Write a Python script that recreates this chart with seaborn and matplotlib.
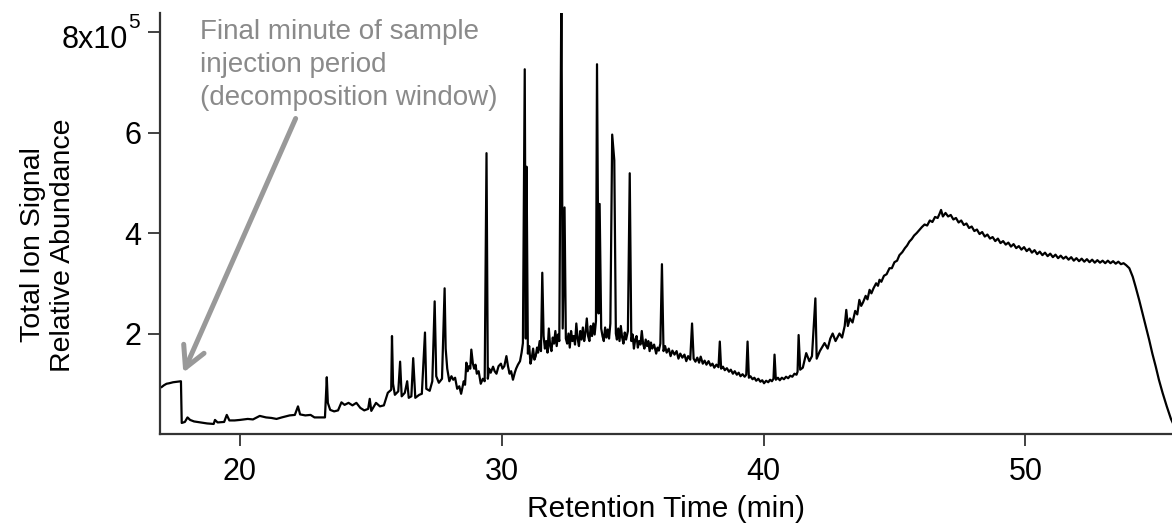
import matplotlib
matplotlib.use("Agg")
import matplotlib.pyplot as plt
import seaborn as sns
import pandas as pd

# ---- data (retention time in min, signal in units of 1e5) ----
rt_early = [17.0, 17.1, 17.2, 17.3, 17.45, 17.6, 17.75, 17.78, 17.9, 18.0, 18.1, 18.25, 18.5,
            18.75, 19.0, 19.05, 19.15, 19.4, 19.5, 19.6, 19.8, 20.0, 20.3, 20.5, 20.76, 21.0,
            21.2, 21.4, 21.6, 21.9, 22.1, 22.22, 22.3, 22.5, 22.7, 22.85, 23.0, 23.25, 23.32,
            23.36, 23.45, 23.6, 23.75, 23.88, 24.0, 24.15, 24.3, 24.45, 24.6, 24.75, 24.9,
            24.96, 25.02, 25.2, 25.35, 25.5, 25.65, 25.78, 25.81, 25.85, 25.92, 26.05, 26.12,
            26.18, 26.3, 26.39, 26.45, 26.55, 26.62, 26.7, 26.85, 26.95, 27.07, 27.12, 27.25,
            27.35, 27.44, 27.5, 27.6, 27.72, 27.82, 27.86, 27.92]
tic_early = [0.93, 0.97, 1.00, 1.01, 1.03, 1.04, 1.05, 0.22, 0.24, 0.33, 0.28, 0.25, 0.23,
             0.21, 0.20, 0.28, 0.23, 0.24, 0.38, 0.27, 0.27, 0.28, 0.30, 0.29, 0.36, 0.33,
             0.32, 0.30, 0.33, 0.37, 0.38, 0.55, 0.39, 0.37, 0.38, 0.33, 0.33, 0.33, 1.13,
             0.62, 0.48, 0.45, 0.47, 0.63, 0.58, 0.62, 0.57, 0.62, 0.52, 0.47, 0.50,
             0.70, 0.46, 0.62, 0.55, 0.57, 0.82, 0.88, 1.95, 1.00, 0.78, 0.85, 1.44,
             0.75, 0.82, 1.05, 0.72, 0.75, 1.51, 0.72, 0.78, 0.80, 2.02, 0.90, 0.86,
             1.05, 2.64, 1.15, 1.02, 1.10, 2.90, 1.70, 1.30]

rt_mid = [28.0, 28.08, 28.15, 28.22, 28.3, 28.38, 28.45, 28.55, 28.6, 28.65, 28.7, 28.75, 28.8,
          28.84, 28.9, 28.95, 29.0, 29.05, 29.12, 29.2, 29.28, 29.35, 29.42, 29.47, 29.52,
          29.58, 29.67, 29.73, 29.8, 29.88, 29.97, 30.03, 30.1, 30.18, 30.24, 30.3, 30.36,
          30.43, 30.5, 30.55, 30.62, 30.7, 30.76, 30.81, 30.88, 30.92, 30.95, 31.0, 31.05,
          31.1, 31.15, 31.2, 31.25, 31.3, 31.35, 31.39, 31.45, 31.5, 31.55, 31.6, 31.65, 31.7,
          31.75, 31.8, 31.85, 31.9, 31.95, 32.0, 32.05, 32.1, 32.15, 32.2, 32.28, 32.33, 32.4,
          32.45, 32.5, 32.55, 32.6, 32.65, 32.7, 32.75, 32.8, 32.85, 32.9, 32.95, 33.0, 33.05,
          33.1, 33.15, 33.2, 33.25, 33.3, 33.35, 33.4, 33.45, 33.5, 33.55, 33.6, 33.64, 33.7,
          33.74, 33.8, 33.85, 33.9, 33.95, 34.0, 34.05, 34.1, 34.15, 34.22, 34.3, 34.36, 34.4,
          34.45, 34.5, 34.55, 34.6, 34.65, 34.7, 34.75, 34.82, 34.89, 34.95, 35.0, 35.05,
          35.1, 35.15, 35.2, 35.25, 35.3, 35.35, 35.4, 35.45, 35.5, 35.55, 35.6, 35.65, 35.7,
          35.75, 35.82, 35.9, 35.95, 36.0, 36.06, 36.12, 36.18, 36.24, 36.3, 36.38, 36.45,
          36.52, 36.6, 36.68, 36.75, 36.82, 36.9, 36.98, 37.05, 37.12, 37.2, 37.27, 37.33,
          37.4, 37.47, 37.54, 37.6, 37.68, 37.75, 37.82, 37.9, 37.98, 38.05, 38.12, 38.2,
          38.28, 38.33, 38.38, 38.45, 38.52, 38.6, 38.68, 38.75, 38.83, 38.9, 38.98, 39.05,
          39.12, 39.2, 39.28, 39.34, 39.39, 39.44, 39.5, 39.58, 39.65, 39.72, 39.8, 39.88,
          39.95]
tic_mid = [1.05, 1.15, 1.08, 1.12, 0.90, 0.95, 0.80, 1.05, 0.98, 1.42, 1.25, 1.35, 1.30,
           1.68, 1.40, 1.30, 1.38, 1.20, 1.25, 1.00, 1.10, 1.05, 5.59, 1.10, 1.30,
           1.22, 1.34, 1.25, 1.20, 1.35, 1.40, 1.30, 1.35, 1.55, 1.35, 1.20, 1.25,
           1.08, 1.22, 1.30, 1.38, 1.45, 1.62, 1.81, 7.26, 1.90, 5.32, 1.60, 1.75,
           1.40, 1.52, 1.70, 1.48, 1.55, 1.72, 1.62, 1.85, 1.65, 3.21, 1.95, 1.70, 1.85,
           1.62, 2.10, 1.75, 1.65, 1.92, 1.80, 2.05, 1.75, 1.98, 1.85, 9.00, 2.10, 4.51,
           1.90, 1.80, 2.00, 1.72, 2.05, 1.85, 1.95, 1.78, 2.20, 1.90, 1.75, 2.05, 1.88,
           2.12, 1.85, 2.02, 2.30, 1.95, 1.85, 2.15, 1.95, 2.20, 1.98, 2.25, 7.36, 2.40,
           4.58, 2.10, 1.95, 1.85, 2.12, 1.92, 2.08, 1.90, 2.20, 5.96, 5.45, 2.00, 1.88,
           2.10, 1.85, 2.15, 1.92, 1.80, 2.02, 1.88, 2.05, 5.19, 1.85, 1.98, 1.70,
           1.88, 1.95, 1.72, 1.85, 1.78, 2.05, 1.80, 1.70, 1.88, 1.75, 1.85, 1.65, 1.82,
           1.70, 1.78, 1.60, 1.72, 1.66, 1.80, 3.38, 1.65, 1.75, 1.62, 1.70, 1.55,
           1.66, 1.58, 1.65, 1.50, 1.60, 1.52, 1.58, 1.45, 1.55, 1.48, 2.20, 1.50,
           1.44, 1.52, 1.42, 1.54, 1.40, 1.46, 1.38, 1.45, 1.36, 1.40, 1.32, 1.38,
           1.33, 1.84, 1.30, 1.34, 1.27, 1.31, 1.24, 1.28, 1.20, 1.25, 1.18, 1.22,
           1.15, 1.19, 1.14, 1.18, 1.84, 1.12, 1.15, 1.09, 1.12, 1.06, 1.10, 1.04,
           1.07]

rt_late = [40.02, 40.1, 40.18, 40.25, 40.32, 40.38, 40.42, 40.47, 40.55, 40.62, 40.7, 40.78,
           40.86, 40.94, 41.02, 41.1, 41.18, 41.26, 41.3, 41.34, 41.4, 41.5, 41.63, 41.75,
           41.85, 41.98, 42.03, 42.15, 42.33, 42.45, 42.55, 42.64, 42.75, 42.9, 43.0, 43.1,
           43.16, 43.22, 43.3, 43.4, 43.5, 43.58, 43.66, 43.73, 43.8, 43.9, 43.97, 44.05,
           44.12, 44.2, 44.3, 44.37, 44.43, 44.5, 44.6, 44.7, 44.81, 44.9, 45.0, 45.1, 45.19,
           45.3, 45.4, 45.48, 45.57, 45.66, 45.75, 45.85, 45.95, 46.05, 46.15, 46.25, 46.35,
           46.45, 46.55, 46.65, 46.72, 46.78, 46.85, 46.95, 47.05, 47.15, 47.25, 47.35, 47.45,
           47.55, 47.65, 47.75, 47.85, 47.95, 48.05, 48.15, 48.25, 48.35, 48.45, 48.55, 48.65,
           48.75, 48.85, 48.95, 49.05, 49.15, 49.25, 49.35, 49.45, 49.55, 49.65, 49.75, 49.85,
           49.95, 50.05, 50.15, 50.25, 50.35, 50.45, 50.55, 50.65, 50.75, 50.85, 50.95, 51.05,
           51.15, 51.25, 51.35, 51.45, 51.55, 51.65, 51.75, 51.85, 51.95, 52.05, 52.15, 52.25,
           52.35, 52.45, 52.55, 52.65, 52.75, 52.85, 52.95, 53.05, 53.15, 53.25, 53.35, 53.45,
           53.55, 53.65, 53.75, 53.85, 53.97, 54.1, 54.21, 54.35, 54.47, 54.6, 54.73, 54.85,
           54.98, 55.1, 55.24, 55.4, 55.56, 55.65]
tic_late = [1.01, 1.06, 1.03, 1.08, 1.05, 1.10, 1.58, 1.08, 1.12, 1.07, 1.12, 1.09,
            1.14, 1.11, 1.16, 1.14, 1.20, 1.18, 1.24, 1.97, 1.28, 1.32, 1.61, 1.45,
            1.55, 2.70, 1.50, 1.65, 1.81, 1.70, 1.90, 2.00, 1.85, 2.00, 1.92, 2.15,
            2.47, 2.15, 2.30, 2.22, 2.45, 2.38, 2.67, 2.55, 2.62, 2.75, 2.68, 2.87,
            2.80, 2.90, 3.00, 2.95, 3.07, 3.03, 3.15, 3.18, 3.30, 3.30, 3.42, 3.45, 3.56,
            3.62, 3.70, 3.75, 3.83, 3.88, 3.95, 4.00, 4.06, 4.12, 4.17, 4.15, 4.25,
            4.22, 4.32, 4.30, 4.38, 4.46, 4.33, 4.40, 4.33, 4.36, 4.27, 4.30, 4.21,
            4.25, 4.16, 4.19, 4.10, 4.13, 4.04, 4.07, 3.98, 4.02, 3.93, 3.97, 3.89,
            3.92, 3.84, 3.89, 3.80, 3.84, 3.77, 3.81, 3.73, 3.78, 3.70, 3.74, 3.67,
            3.72, 3.64, 3.69, 3.61, 3.66, 3.58, 3.63, 3.56, 3.61, 3.54, 3.59, 3.52,
            3.57, 3.50, 3.55, 3.49, 3.53, 3.47, 3.52, 3.45, 3.50, 3.44, 3.49, 3.43,
            3.48, 3.42, 3.47, 3.41, 3.46, 3.41, 3.45, 3.40, 3.45, 3.40, 3.44, 3.39,
            3.43, 3.38, 3.40, 3.36, 3.30, 3.13, 2.93, 2.66, 2.41, 2.14, 1.87, 1.60,
            1.34, 1.08, 0.82, 0.55, 0.30, 0.20]

x_ticks = [20, 30, 40, 50]
y_ticks_e5 = [2, 4, 6, 8]
y_tick_labels = ["2", "4", "6", ""]
top_label_base = "8x10"
top_label_exp = "5"
annotation_text = "Final minute of sample\ninjection period\n(decomposition window)"
arrow_tip = (17.84, 1.22)
arrow_tail = (22.13, 6.28)

rt = rt_early + rt_mid + rt_late
tic = [v * 1e5 for v in tic_early + tic_mid + tic_late]
df = pd.DataFrame({"rt": rt, "tic": tic})

sns.set_theme(style="ticks")
plt.rcParams["font.family"] = ["Liberation Sans", "DejaVu Sans"]

W, H = 1172, 527
fig = plt.figure(figsize=(W / 100, H / 100), dpi=100)
ax = fig.add_axes([160 / W, 93 / H, 1012 / W, 421 / H])

sns.lineplot(data=df, x="rt", y="tic", ax=ax, color="black", linewidth=1.6,
             sort=False, estimator=None)

ax.set_xlim(16.95, 55.6)
ax.set_ylim(0, 8.38e5)
ax.set_xticks(x_ticks)
ax.set_xticklabels([str(t) for t in x_ticks])
ax.set_yticks([v * 1e5 for v in y_ticks_e5])
ax.set_yticklabels(y_tick_labels)

for s in ["top", "right"]:
    ax.spines[s].set_visible(False)
for s in ["left", "bottom"]:
    ax.spines[s].set_color("#333333")
    ax.spines[s].set_linewidth(1.6)

ax.tick_params(axis="both", direction="out", length=8.5, width=1.3, color="#333333",
               labelsize=22, labelcolor="black")
ax.tick_params(axis="x", pad=8)
ax.tick_params(axis="y", pad=5)

# "8x10^5" label for the top tick, with a large raised exponent as in the reference
ytrans = ax.get_yaxis_transform()
ax.text(-0.0316, 7.84e5, top_label_base, transform=ytrans, ha="right", va="center",
        fontsize=22, color="black", clip_on=False)
ax.text(-0.0316, 8.19e5, top_label_exp, transform=ytrans, ha="left", va="center",
        fontsize=15, color="black", clip_on=False)

ax.set_xlabel("Retention Time (min)", fontsize=21.5, color="black", labelpad=6)
ax.set_ylabel("")
fig.text(48 / W, 1 - 245 / H, "Total Ion Signal\nRelative Abundance", rotation=90,
         ha="center", va="center", multialignment="center", fontsize=20.5, color="black",
         linespacing=1.2)

ax.text(18.47, 8.27e5, annotation_text, ha="left", va="top", fontsize=20,
        color="#8a8a8a", linespacing=1.37)

ax.annotate("", xy=(arrow_tip[0], arrow_tip[1] * 1e5),
            xytext=(arrow_tail[0], arrow_tail[1] * 1e5),
            arrowprops=dict(arrowstyle="->,head_length=0.75,head_width=0.4",
                            mutation_scale=20, lw=3.6, color="#999999",
                            shrinkA=0, shrinkB=0))

fig.savefig("out.png", dpi=100)
